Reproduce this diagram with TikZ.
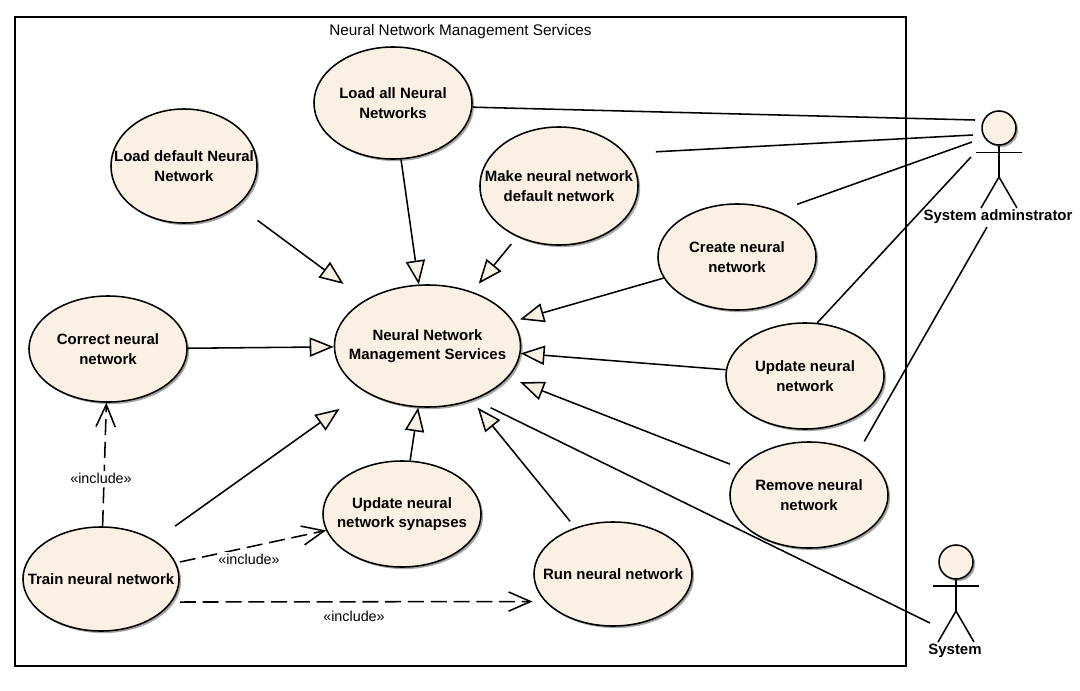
\documentclass[tikz,border=0pt]{standalone}
\usepackage{fontspec}
\setmainfont{Liberation Sans}
\usetikzlibrary{arrows.meta,shapes.geometric,shadows}
\definecolor{usecasefill}{HTML}{FAF0E3}
\tikzset{
  usecase/.style={ellipse,draw,fill=usecasefill,line width=1.1pt,inner sep=-2cm,
    minimum width=3.95cm,minimum height=2.65cm,align=center,
    font=\bfseries\fontsize{10.65}{14}\selectfont,
    drop shadow={shadow xshift=1.5pt,shadow yshift=-1.5pt,opacity=.35,fill=black}},
  actorhead/.style={circle,draw,fill=usecasefill,line width=1.1pt,inner sep=0pt,
    minimum size=.85cm,
    drop shadow={shadow xshift=1.5pt,shadow yshift=-1.5pt,opacity=.35,fill=black}},
  actorname/.style={font=\bfseries\fontsize{10.65}{14}\selectfont},
  stick/.style={line width=1.1pt},
  assoc/.style={line width=1.1pt},
  gen/.style={line width=1.1pt,-{Triangle[length=.6cm,width=.48cm,fill=usecasefill]}},
  incl/.style={line width=1.1pt,dash pattern=on .4cm off .17cm,
    -{Straight Barb[length=.55cm,width=.48cm]}},
  includelabel/.style={fill=white,inner sep=1pt,font=\fontsize{10.2}{12}\selectfont}
}
\begin{document}
\begin{tikzpicture}[x=.025cm,y=-.025cm]
  \useasboundingbox (0,0) rectangle (1080,691);

  \node[draw,line width=1.1pt,minimum width=22.275cm,minimum height=16.225cm] (frame) at (460.5,341.5) {};
  \node[font=\fontsize{10.9}{12}\selectfont] (title) at (460.5,32) {Neural Network Management Services};

  \node[usecase] at (427.5,346) (nnms) [minimum width=4.65cm,minimum height=3.05cm] {Neural Network\\Management Services};

  \node[usecase] at (393,103) (loadall) [minimum height=2.8cm] {Load all Neural\\Networks};
  \node[usecase] at (184,166) (loaddefault) [minimum width=3.65cm,minimum height=2.85cm] {Load default Neural\\Network};
  \node[usecase] at (559,186) (makedefault) [minimum height=2.95cm] {Make neural network\\default network};
  \node[usecase] at (737,257) (create) {Create neural\\network};
  \node[usecase] at (805,376) (update) {Update neural\\network};
  \node[usecase] at (809,495) (remove) {Remove neural\\network};
  \node[usecase] at (108,349) (correct) {Correct neural\\network};
  \node[usecase] at (101,579) (train) [minimum width=3.9cm,minimum height=2.6cm] {Train neural network};
  \node[usecase] at (402,514) (synapses) {Update neural\\network synapses};
  \node[usecase] at (613,574) (run) [minimum height=2.6cm] {Run neural network};

  \node[actorhead] at (999,128) (adminhead) {};
  \node[actorname] at (998,217) (adminname) {System adminstrator};
  \draw[stick] (adminhead.south) -- (999,177) coordinate (adminhip);
  \draw[stick] (976,152.5) -- (1022,152.5);
  \draw[stick] (981,208) -- (adminhip) -- (1017,208);

  \node[actorhead] at (956,562) (systemhead) {};
  \node[actorname] at (955,651) (systemname) {System};
  \draw[stick] (systemhead.south) -- (956,611) coordinate (systemhip);
  \draw[stick] (933,586) -- (979,586);
  \draw[stick] (938,642) -- (systemhip) -- (974,642);

  \coordinate (adminA) at (975,120);
  \coordinate (adminB) at (973,135);
  \coordinate (adminC) at (972,142);
  \coordinate (adminD) at (971,157);
  \coordinate (adminE) at (987,227);
  \coordinate (systemA) at (930,623);

  \draw[assoc] (loadall.-3) -- (adminA);
  \draw[assoc,shorten <=.75cm] (makedefault.26) -- (adminB);
  \draw[assoc,shorten <=.5cm] (create.48) -- (adminC);
  \draw[assoc] (update.77) -- (adminD);
  \draw[assoc,shorten <=.32cm] (remove.41) -- (adminE);
  \draw[assoc,shorten <=.46cm] (nnms.-49) -- (systemA);

  \draw[gen,shorten <=.62cm,shorten >=.67cm] (loaddefault) -- (nnms);
  \draw[gen] (loadall) -- (nnms);
  \draw[gen,shorten <=.23cm,shorten >=.26cm] (makedefault) -- (nnms);
  \draw[gen,shorten >=.17cm] (create) -- (nnms);
  \draw[gen] (update) -- (nnms);
  \draw[gen,shorten <=.27cm,shorten >=.32cm] (remove) -- (nnms);
  \draw[gen,shorten <=.2cm,shorten >=.23cm] (run) -- (nnms);
  \draw[gen] (synapses) -- (nnms);
  \draw[gen,shorten <=.62cm,shorten >=.75cm] (train) -- (nnms);
  \draw[gen] (correct) -- (nnms);

  \draw[incl] (train) -- (correct);
  \draw[incl,shorten <=.1cm] (train) -- (synapses);
  \draw[incl,shorten <=.2cm,shorten >=.31cm] (train.-18) -- (run.202);

  \node[includelabel] at (101,478) (inclA) {«include»};
  \node[includelabel] at (249,559) (inclB) {«include»};
  \node[includelabel] at (354,616) (inclC) {«include»};
\end{tikzpicture}
\end{document}
